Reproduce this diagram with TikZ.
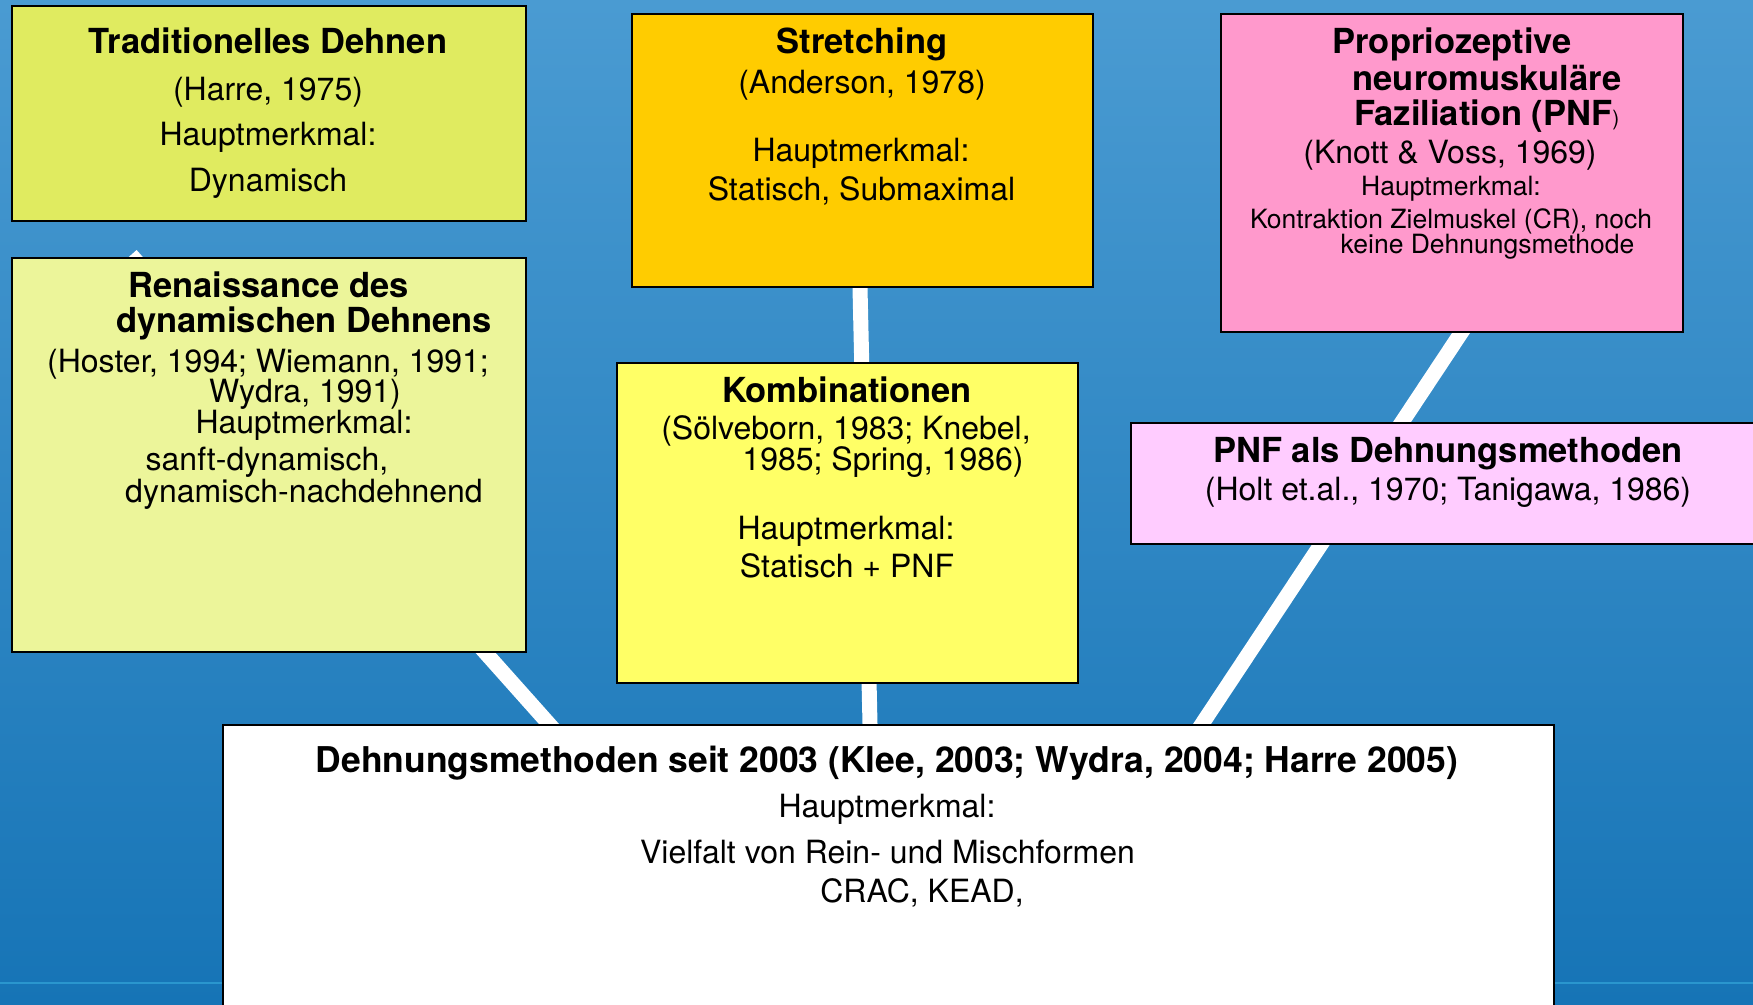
\documentclass[tikz,border=0pt]{standalone}
\usepackage{fontspec}
\setmainfont{TeX Gyre Heros}
\usetikzlibrary{calc}
\pgfdeclarelayer{bglayer}
\pgfdeclarelayer{linelayer}
\pgfsetlayers{bglayer,linelayer,main}
\definecolor{bgtop}{RGB}{74,155,210}
\definecolor{bgbot}{RGB}{22,116,182}
\definecolor{bgline}{RGB}{42,150,206}
\definecolor{ctrad}{RGB}{224,235,96}
\definecolor{cren}{RGB}{236,245,154}
\definecolor{cstretch}{RGB}{255,204,0}
\definecolor{ckombi}{RGB}{255,255,102}
\definecolor{cpnf}{RGB}{255,153,204}
\definecolor{cpnfd}{RGB}{255,204,255}
\tikzset{
  box/.style={draw=black, line width=2pt, rectangle, inner sep=0pt, anchor=north west},
  ttl/.style={anchor=base, inner sep=0pt, font=\fontsize{34.5}{40}\selectfont\bfseries},
  bigttl/.style={anchor=base, inner sep=0pt, font=\fontsize{35.5}{41}\selectfont\bfseries},
  txt/.style={anchor=base, inner sep=0pt, font=\fontsize{32}{38}\selectfont},
  sml/.style={anchor=base, inner sep=0pt, font=\fontsize{26.5}{31}\selectfont},
  conn/.style={draw=white, line width=15pt},
}
\begin{document}
\begin{tikzpicture}[x=1pt,y=-1pt]
\useasboundingbox (0,0) rectangle (1753,1004);
\begin{pgfonlayer}{bglayer}
  \shade[top color=bgtop, bottom color=bgbot] (0,0) rectangle (1753,1004);
  \fill[bgline] (0,982) rectangle (1753,984);
\end{pgfonlayer}

% boxes
\node[box, fill=ctrad, minimum width=514pt, minimum height=215pt] (trad) at (11,5) {};
\node[box, fill=cren, minimum width=514pt, minimum height=394pt] (ren) at (11,257) {};
\node[box, fill=cstretch, minimum width=461pt, minimum height=273pt] (stretch) at (631,13) {};
\node[box, fill=ckombi, minimum width=461pt, minimum height=320pt] (kombi) at (616,362) {};
\node[box, fill=cpnf, minimum width=462pt, minimum height=318pt] (pnf) at (1220,13) {};
\node[box, fill=cpnfd, minimum width=660pt, minimum height=121pt] (pnfd) at (1130,422) {};
\node[box, fill=white, minimum width=1331pt, minimum height=320pt] (main) at (222,724) {};

% connectors
\coordinate (rtip) at (131,255);
\begin{pgfonlayer}{linelayer}
  \draw[conn, shorten >=-12pt] (rtip) -- ([xshift=327pt]main.north west);
  \draw[conn, shorten <=-12pt, shorten >=-12pt] ([xshift=229pt]stretch.south west) -- ([xshift=648pt]main.north west);
  \draw[conn, shorten <=-12pt, shorten >=-12pt] ([xshift=241pt]pnf.south west) -- ([xshift=980pt]main.north west);
\end{pgfonlayer}

% Traditionelles Dehnen
\node[ttl] (trad1) at (268,53) {Traditionelles Dehnen};
\node[txt] (trad2) at (268,100) {(Harre, 1975)};
\node[txt] (trad3) at (268,145) {Hauptmerkmal:};
\node[txt] (trad4) at (268,191) {Dynamisch};

% Renaissance
\node[ttl] (ren1) at (268.5,297) {Renaissance des};
\node[ttl] (ren2) at (304,332) {dynamischen Dehnens};
\node[txt] (ren3) at (268,372) {(Hoster, 1994; Wiemann, 1991;};
\node[txt] (ren4) at (305,402) {Wydra, 1991)};
\node[txt] (ren5) at (304,433) {Hauptmerkmal:};
\node[txt] (ren6) at (267,470) {sanft-dynamisch,};
\node[txt] (ren7) at (304,502) {dynamisch-nachdehnend};

% Stretching
\node[ttl] (str1) at (862,53) {Stretching};
\node[txt] (str2) at (862,93) {(Anderson, 1978)};
\node[txt] (str3) at (861,161) {Hauptmerkmal:};
\node[txt] (str4) at (861.5,200) {Statisch, Submaximal};

% Kombinationen
\node[ttl] (kom1) at (847,402) {Kombinationen};
\node[txt] (kom2) at (846,439) {(Sölveborn, 1983; Knebel,};
\node[txt] (kom3) at (883,470) {1985; Spring, 1986)};
\node[txt] (kom4) at (846,539) {Hauptmerkmal:};
\node[txt] (kom5) at (847,577) {Statisch + PNF};

% PNF
\node[ttl] (pnf1) at (1452,53) {Propriozeptive};
\node[ttl] (pnf2) at (1487,90) {neuromuskuläre};
\node[anchor=base west, inner sep=0pt] (pnf3) at (1354,125) {\fontsize{34.5}{40}\selectfont\bfseries Faziliation (PNF\fontsize{21}{24}\selectfont\mdseries)};
\node[txt] (pnf4) at (1450,163) {(Knott \& Voss, 1969)};
\node[sml] (pnf5) at (1451,195) {Hauptmerkmal:};
\node[sml] (pnf6) at (1451,228) {Kontraktion Zielmuskel (CR), noch};
\node[sml] (pnf7) at (1487.5,253) {keine Dehnungsmethode};

% PNF als Dehnungsmethoden
\node[ttl] (pnfd1) at (1448,462) {PNF als Dehnungsmethoden};
\node[txt] (pnfd2) at (1448,500) {(Holt et.al., 1970; Tanigawa, 1986)};

% main
\node[bigttl] (main1) at (887,772) {Dehnungsmethoden seit 2003 (Klee, 2003; Wydra, 2004; Harre 2005)};
\node[txt] (main2) at (887,817) {Hauptmerkmal:};
\node[txt] (main3) at (887.5,863) {Vielfalt von Rein- und Mischformen};
\node[txt] (main4) at (922,902) {CRAC, KEAD,};
\end{tikzpicture}
\end{document}
